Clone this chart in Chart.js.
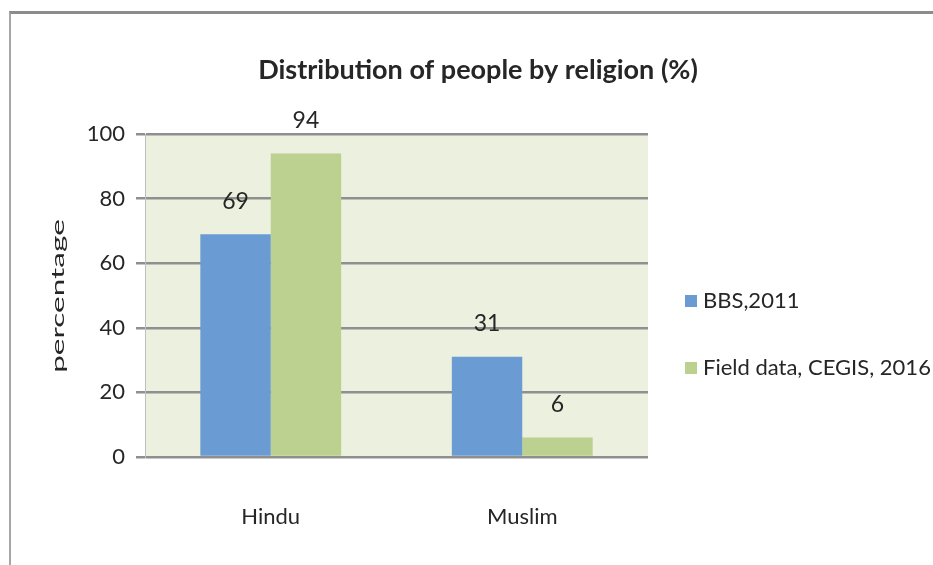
<!DOCTYPE html>
<html>
<head>
<meta charset="utf-8">
<title>Distribution of people by religion</title>
<script src="https://cdn.jsdelivr.net/npm/chart.js@4.4.0/dist/chart.umd.min.js"></script>
<style>
html, body { margin: 0; padding: 0; background: #fff; }
#frame { position: absolute; left: 9px; top: 11px; width: 924px; height: 554px; border-top: 3px solid #8c8c8c; border-left: 2px solid #a6a6a6; box-sizing: border-box; }
#wrap { position: absolute; left: 0; top: 0; width: 933px; height: 565px; }
</style>
</head>
<body>
<div id="frame"></div>
<div id="wrap"><canvas id="religionChart" width="933" height="565"></canvas></div>
<script>
const chartTitle = "Distribution of people by religion (%)";
const yAxisTitle = "percentage";
const categories = ["Hindu", "Muslim"];
const seriesNames = ["BBS,2011", "Field data, CEGIS, 2016"];
const bbsValues = [69, 31];
const cegisValues = [94, 6];
const yTicks = [0, 20, 40, 60, 80, 100];

const FONT = "Lato, 'Open Sans', sans-serif";
const TEXT = "#262626";

// plot area background
const plotBg = {
    id: "plotBg",
    beforeDraw(chart) {
        const a = chart.chartArea;
        const ctx = chart.ctx;
        ctx.save();
        ctx.fillStyle = "#ebf1de";
        ctx.fillRect(a.left, a.top, a.right - a.left, a.bottom - a.top);
        ctx.restore();
    }
};

// title + y axis title (the y one is stretched along its length like the original)
const texts = {
    id: "texts",
    afterDraw(chart) {
        const ctx = chart.ctx;
        ctx.save();
        ctx.fillStyle = TEXT;
        ctx.textAlign = "center";
        ctx.textBaseline = "middle";
        ctx.font = "bold 27px " + FONT;
        ctx.fillText(chartTitle, 478, 70);

        ctx.translate(58, 296);
        ctx.rotate(-Math.PI / 2);
        ctx.scale(1.75, 1);
        ctx.font = "18px " + FONT;
        ctx.fillText(yAxisTitle, 0, 0);
        ctx.restore();
    }
};

// numbers over the bars
const barValues = {
    id: "barValues",
    afterDatasetsDraw(chart) {
        const ctx = chart.ctx;
        ctx.save();
        ctx.font = "23px " + FONT;
        ctx.fillStyle = TEXT;
        ctx.textAlign = "center";
        ctx.textBaseline = "middle";
        chart.data.datasets.forEach(function(ds, i) {
            chart.getDatasetMeta(i).data.forEach(function(bar, j) {
                ctx.fillText(ds.data[j], bar.x, bar.y - 33);
            });
        });
        ctx.restore();
    }
};

// legend on the right, Excel style
const sideLegend = {
    id: "sideLegend",
    afterDraw(chart) {
        const ctx = chart.ctx;
        ctx.save();
        ctx.font = "22px " + FONT;
        ctx.textBaseline = "middle";
        ctx.textAlign = "left";
        chart.data.datasets.forEach(function(ds, i) {
            const y = 301 + i * 67;
            ctx.fillStyle = ds.backgroundColor;
            ctx.fillRect(685, y - 6, 12, 12);
            ctx.fillStyle = TEXT;
            ctx.fillText(ds.label, 703, y);
        });
        ctx.restore();
    }
};

const ctx = document.getElementById("religionChart").getContext("2d");
new Chart(ctx, {
    type: "bar",
    data: {
        labels: categories,
        datasets: [
            { label: seriesNames[0], data: bbsValues, backgroundColor: "#6b9bd3" },
            { label: seriesNames[1], data: cegisValues, backgroundColor: "#bcd08f" }
        ]
    },
    options: {
        responsive: false,
        animation: false,
        layout: { padding: { left: 10, right: 285, top: 134, bottom: 0 } },
        datasets: { bar: { categoryPercentage: 0.56, barPercentage: 1.0 } },
        plugins: {
            legend: { display: false },
            tooltip: { enabled: false },
            title: { display: false }
        },
        scales: {
            x: {
                afterFit(scale) { scale.height = 108; },
                grid: { display: false },
                border: { display: false },
                ticks: { color: TEXT, font: { family: FONT, size: 22 }, padding: 39 }
            },
            y: {
                min: 0,
                max: 100,
                afterFit(scale) { scale.width = 135; },
                afterBuildTicks(scale) { scale.ticks = yTicks.map(v => ({ value: v })); },
                border: { display: true, color: "#bfbfbf", width: 1 },
                grid: { color: "#8f8f8f", lineWidth: 2.5, tickLength: 9, drawTicks: true },
                ticks: { color: TEXT, font: { family: FONT, size: 22 }, padding: 11 }
            }
        }
    },
    plugins: [plotBg, barValues, sideLegend, texts]
});
</script>
</body>
</html>
